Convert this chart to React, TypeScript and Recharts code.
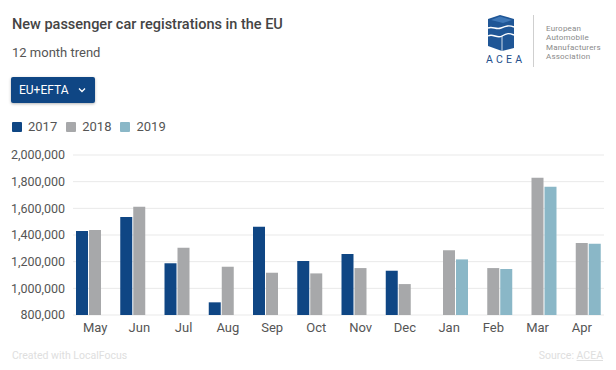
import React from 'react';
import { BarChart, Bar, XAxis, YAxis, CartesianGrid } from 'recharts';

const months = ['May', 'Jun', 'Jul', 'Aug', 'Sep', 'Oct', 'Nov', 'Dec', 'Jan', 'Feb', 'Mar', 'Apr'];
const y2017 = [1430000, 1535000, 1188000, 895000, 1462000, 1205000, 1257000, 1132000, null, null, null, null];
const y2018 = [1437000, 1612000, 1305000, 1162000, 1117000, 1112000, 1152000, 1032000, 1285000, 1152000, 1830000, 1340000];
const y2019 = [null, null, null, null, null, null, null, null, 1217000, 1145000, 1762000, 1335000];
const yTicks = [800000, 1000000, 1200000, 1400000, 1600000, 1800000, 2000000];
const seriesNames = ['2017', '2018', '2019'];
const colors = ['#0f4684', '#a7a8aa', '#8ab7c7'];

const data = months.map((m, i) => ({ month: m, y2017: y2017[i], y2018: y2018[i], y2019: y2019[i] }));

const FONT = 'Roboto, "Noto Sans", Arial, sans-serif';

function Logo() {
  return (
    <div style={{ position: 'absolute', left: 484, top: 12, width: 130, height: 60 }}>
      <svg width={30} height={36} style={{ position: 'absolute', left: 3, top: 3 }} viewBox="0 0 30 36">
        <polygon points="1,4 13,0 27,4 27,33 15,36 1,31" fill="#1f5696" />
        <polygon points="13,1.5 25,5 16,8 4,5" fill="#3f78b8" />
        <path d="M1,13 C6,11 9,15 14,13 S22,10 27,12" stroke="#fff" strokeWidth={1.4} fill="none" />
        <path d="M1,21 C6,18 10,24 15,21 S22,18 27,20" stroke="#fff" strokeWidth={1.4} fill="none" />
        <path d="M15,21 L15,36" stroke="#fff" strokeWidth={0.8} fill="none" />
      </svg>
      <div style={{ position: 'absolute', left: 2, top: 41, fontFamily: FONT, fontSize: 10.5, letterSpacing: 3.2, color: '#1f4f8c' }}>ACEA</div>
      <div style={{ position: 'absolute', left: 49, top: 3, width: 1, height: 52, background: '#cfcfcf' }} />
      <div style={{ position: 'absolute', left: 62, top: 12, fontFamily: FONT, fontSize: 8, lineHeight: '9.3px', color: '#8a8a8a', letterSpacing: 0.2 }}>
        European<br />Automobile<br />Manufacturers<br />Association
      </div>
    </div>
  );
}

function Header() {
  return (
    <>
      <div style={{ position: 'absolute', left: 12, top: 16, fontFamily: FONT, fontSize: 14.5, fontWeight: 500, color: '#444' }}>
        New passenger car registrations in the EU
      </div>
      <div style={{ position: 'absolute', left: 12, top: 45, fontFamily: FONT, fontSize: 13, color: '#555' }}>12 month trend</div>
      <div
        style={{
          position: 'absolute', left: 11, top: 77, width: 84, height: 26, background: '#0f4684',
          boxShadow: '0 1px 3px rgba(0,0,0,0.3)', borderRadius: 2, fontFamily: FONT, fontSize: 12,
          color: '#fff', display: 'flex', alignItems: 'center', boxSizing: 'border-box', paddingLeft: 8,
        }}
      >
        EU+EFTA
        <svg width={8} height={6} style={{ marginLeft: 9 }} viewBox="0 0 8 6">
          <polyline points="1,1.5 4,4.5 7,1.5" stroke="#fff" strokeWidth={1.3} fill="none" />
        </svg>
      </div>
      <div style={{ position: 'absolute', left: 12, top: 119, display: 'flex', alignItems: 'center', fontFamily: FONT, fontSize: 13, color: '#555' }}>
        {seriesNames.map((n, i) => (
          <span key={n} style={{ display: 'flex', alignItems: 'center', marginRight: 9 }}>
            <span style={{ width: 10, height: 10, background: colors[i], borderRadius: 1, marginRight: 6, display: 'inline-block' }} />
            {n}
          </span>
        ))}
      </div>
    </>
  );
}

export default function App() {
  return (
    <div style={{ position: 'absolute', left: 0, top: 0, width: 616, height: 370, background: '#fff', overflow: 'hidden' }}>
      <Header />
      <Logo />
      <div style={{ position: 'absolute', left: 0, top: 140 }}>
        <BarChart width={616} height={230} data={data} margin={{ top: 15, right: 12, left: 0, bottom: 0 }} barSize={12} barGap={1}>
          <CartesianGrid vertical={false} stroke="#e9e9e9" />
          <XAxis
            dataKey="month"
            axisLine={false}
            tickLine={false}
            height={55}
            tickMargin={2}
            interval={0}
            tick={{ fontFamily: FONT, fontSize: 13, fill: '#555' }}
          />
          <YAxis
            width={73}
            domain={[800000, 2000000]}
            ticks={yTicks}
            allowDataOverflow
            axisLine={false}
            tickLine={false}
            tickFormatter={(v: number) => v.toLocaleString('en-US')}
            tick={{ fontFamily: FONT, fontSize: 12.5, fill: '#555' }}
          />
          <Bar dataKey="y2017" fill={colors[0]} isAnimationActive={false} />
          <Bar dataKey="y2018" fill={colors[1]} isAnimationActive={false} />
          <Bar dataKey="y2019" fill={colors[2]} isAnimationActive={false} />
        </BarChart>
      </div>
      <div style={{ position: 'absolute', left: 12, top: 349, fontFamily: FONT, fontSize: 10.5, color: '#dedede' }}>Created with LocalFocus</div>
      <div style={{ position: 'absolute', right: 13, top: 349, fontFamily: FONT, fontSize: 10.5, color: '#dedede' }}>
        Source: <span style={{ textDecoration: 'underline' }}>ACEA</span>
      </div>
    </div>
  );
}
